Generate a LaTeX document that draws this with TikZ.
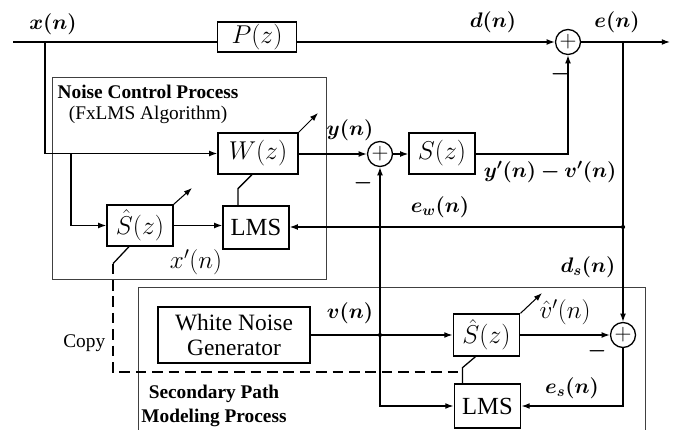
\documentclass[tikz,border=0pt]{standalone}
\usepackage{fix-cm}
\usepackage{amsmath,amssymb,bm}
\usepackage{fontspec}
\setmainfont{Liberation Serif}
\usetikzlibrary{arrows.meta}

\begin{document}
\begin{tikzpicture}[x=0.03cm,y=-0.03cm,line width=1.1pt,
  >={Latex[length=7pt,width=5pt]},
  block/.style={draw,fill=white,inner sep=0pt,font=\fontsize{22}{26}\selectfont},
  summer/.style={draw,circle,minimum size=0.75cm,inner sep=0pt,font=\fontsize{20}{22}\selectfont},
  lbl/.style={font=\fontsize{18}{21}\selectfont,inner sep=1pt},
  est/.style={font=\fontsize{21.5}{24}\selectfont,inner sep=1pt},
  txt/.style={font=\fontsize{16.5}{19}\selectfont,inner sep=1pt},
  title/.style={font=\fontsize{16.5}{20.5}\selectfont\bfseries,inner sep=0pt},
  group/.style={draw=black!75,line width=0.6pt},
  copyline/.style={dash pattern=on 9pt off 5pt}]
\useasboundingbox (0,0) rectangle (676,430);
% process frames
\draw[group] (52,77) rectangle (326,279);
\draw[group] (138,430) |- (645,287) -- (645,430);
\node (nct) at (57,92) [title,anchor=west] {Noise Control Process};
\node (fx) at (67,115) [txt,anchor=west] {(FxLMS Algorithm)};
\node (spt) at (214,406) [title,align=center] {Secondary Path\\Modeling Process};
% blocks
\node (P) at (257,37) [block,minimum width=2.37cm,minimum height=0.9cm] {$P(z)$};
\node (W) at (258,153.5) [block,minimum width=2.4cm,minimum height=1.23cm] {$W(z)$};
\node (S) at (442,153.5) [block,minimum width=1.98cm,minimum height=1.23cm] {$S(z)$};
\node (Sh1) at (140,225.5) [block,minimum width=1.98cm,minimum height=1.23cm] {$\hat{S}(z)$};
\node (LMS1) at (256,227.5) [block,minimum width=1.98cm,minimum height=1.29cm,font=\fontsize{21}{24}\selectfont] {LMS};
\node (WNG) at (234,335) [block,minimum width=4.56cm,minimum height=1.68cm,align=center,font=\fontsize{20}{22}\selectfont] {White Noise\\Generator};
\node (Sh2) at (486.5,335) [block,minimum width=2cm,minimum height=1.26cm] {$\hat{S}(z)$};
\node (LMS2) at (487.5,406) [block,minimum width=2cm,minimum height=1.32cm,font=\fontsize{21}{24}\selectfont] {LMS};
% summing junctions
\node (sum1) at (568,42) [summer] {$+$};
\node (sum2) at (380,154) [summer] {$+$};
\node (sum3) at (623,335) [summer] {$+$};
% branch points
\coordinate (in) at (13,42);
\coordinate (out) at (670,42);
\coordinate (bx) at (45,42);
\coordinate (bw) at (71,154);
\coordinate (be) at (623,42);
\coordinate (bd) at (623,227);
\coordinate (bv) at (380,335);
\coordinate (aw) at (318,113);
\coordinate (as1) at (192,188);
\coordinate (as2) at (542,293);
% signal paths
\draw (in) -- (in -| P.west);
\draw[->] (P.east |- in) -- (sum1.west);
\draw[->] (sum1.east) -- (out);
\draw[->] (bx) |- (W.west);
\draw[->] (bw) |- (Sh1.west);
\draw[->] (Sh1.east) -- (Sh1.east -| LMS1.west);
\draw[->] (W.east |- sum2) -- (sum2.west);
\draw[->] (sum2.east) -- (sum2.east -| S.west);
\draw[->] (S.east |- sum2) -| (sum1.south);
\draw[->] (be) -- (sum3.north);
\draw[->] (bd) -- (bd -| LMS1.east);
\draw[->] (WNG.east) -- (Sh2.west);
\draw[->] (bv) -- (sum2.south);
\draw[->] (bv) |- (LMS2.west);
\draw[->] (Sh2.east) -- (sum3.west);
\draw[->] (sum3.south) |- (LMS2.east);
\fill (bd) circle (1.8pt) (bv) circle (1.8pt);
% adaptation arrows
\draw[->,line width=0.9pt] (W.north east) -- (aw);
\draw[->,line width=0.9pt] (Sh1.north east) -- (as1);
\draw[->,line width=0.9pt] (Sh2.north east) -- (as2);
\draw ([xshift=-0.18cm]W.south) -- ++(-14,14) coordinate (wl) -- (wl |- LMS1.north);
\draw ([xshift=-0.33cm]Sh2.south) -- ++(-13,11) coordinate (sl) -- (sl |- LMS2.north);
% copy of the estimate
\draw ([xshift=-0.33cm]Sh1.south) -- ++(-16,17) coordinate (cp);
\draw[copyline] (cp) -- (cp |- 0,372) -- (sl |- 0,372);
\node (copy) at (107,343) [txt,anchor=east] {Copy};
% signal labels
\node (lx) at (53,24) [lbl] {$\bm{x(n)}$};
\node (ld) at (493,22) [lbl] {$\bm{d(n)}$};
\node (le) at (617,22) [lbl] {$\bm{e(n)}$};
\node (m1) at (560,74) [lbl] {$\bm{-}$};
\node (ly) at (350,130) [lbl] {$\bm{y(n)}$};
\node (m2) at (363,183) [lbl] {$\bm{-}$};
\node (lyv) at (550,172) [lbl] {$\bm{y'(n)-v'(n)}$};
\node (lew) at (440,207) [lbl] {$\bm{e_w(n)}$};
\node (lxp) at (196,262) [est] {$x'(n)$};
\node (lds) at (588,267) [lbl] {$\bm{d_s(n)}$};
\node (lv) at (350,313) [lbl] {$\bm{v(n)}$};
\node (lvh) at (565,312) [est] {$\hat{v}'(n)$};
\node (m3) at (597,351) [lbl] {$\bm{-}$};
\node (les) at (572,388) [lbl] {$\bm{e_s(n)}$};
\end{tikzpicture}
\end{document}
